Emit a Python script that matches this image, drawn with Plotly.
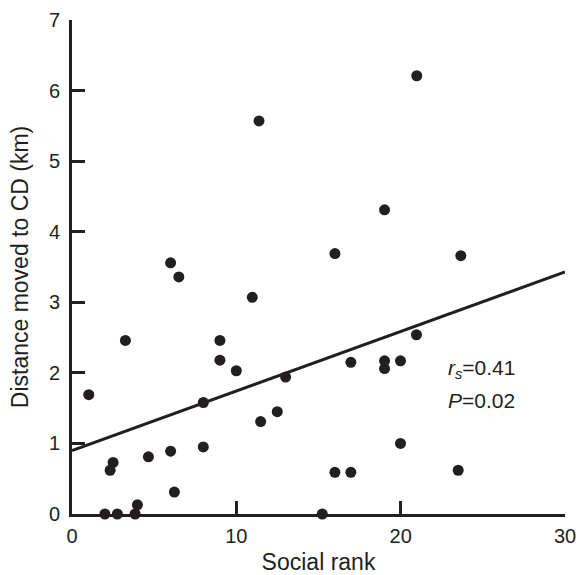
import plotly.graph_objects as go

social_rank = [6.0, 6.5, 10.97, 3.25, 9.0, 9.0, 10.0, 13.0, 1.02, 7.99, 12.49, 11.48,
               7.99, 6.0, 4.65, 2.5, 2.32, 6.23, 3.98, 2.0, 2.76, 3.84, 15.23,
               11.38, 20.98, 19.02, 16.0, 23.66,
               20.96, 16.97, 19.02, 19.02, 19.99, 19.99, 16.0, 16.97, 23.5]
distance_km = [3.56, 3.36, 3.07, 2.46, 2.46, 2.18, 2.03, 1.94, 1.69, 1.58, 1.45, 1.31,
               0.95, 0.89, 0.81, 0.73, 0.62, 0.31, 0.13, 0.0, 0.0, 0.0, 0.0,
               5.57, 6.21, 4.31, 3.69, 3.66,
               2.54, 2.15, 2.17, 2.06, 2.17, 1.0, 0.59, 0.59, 0.62]

fit_x = [0, 30]
fit_y = [0.9, 3.43]

x_ticks = [0, 10, 20, 30]
y_ticks = [0, 1, 2, 3, 4, 5, 6, 7]

ink = "#231f20"
font_family = "Liberation Sans, Arial, Helvetica, sans-serif"

fig = go.Figure()
fig.add_trace(go.Scatter(x=fit_x, y=fit_y, mode="lines",
                         line=dict(color=ink, width=3), cliponaxis=False,
                         hoverinfo="skip", showlegend=False))
fig.add_trace(go.Scatter(x=social_rank, y=distance_km, mode="markers",
                         marker=dict(color=ink, size=11, line=dict(width=0)),
                         cliponaxis=False, showlegend=False))

fig.add_annotation(x=22.75, y=2.06, xref="x", yref="y", xanchor="left", yanchor="middle",
                   text="<i>r<sub>s</sub></i>=0.41", showarrow=False,
                   font=dict(size=21, color=ink, family=font_family))
fig.add_annotation(x=22.75, y=1.61, xref="x", yref="y", xanchor="left", yanchor="middle",
                   text="<i>P</i>=0.02", showarrow=False,
                   font=dict(size=21, color=ink, family=font_family))

fig.update_layout(
    width=585, height=575,
    margin=dict(l=72, r=20, t=20, b=61, autoexpand=False),
    paper_bgcolor="white", plot_bgcolor="white",
    font=dict(family=font_family, size=20, color=ink),
    xaxis=dict(range=[0, 30], tickvals=x_ticks, ticks="inside", ticklen=13, tickwidth=3,
               tickcolor=ink, showline=True, linewidth=3, linecolor=ink, showgrid=False,
               zeroline=False, automargin=False, ticklabelstandoff=2,
               title=dict(text="Social rank", standoff=8, font=dict(size=23)),
               tickfont=dict(size=20)),
    yaxis=dict(range=[0, 7], tickvals=y_ticks, ticks="inside", ticklen=13, tickwidth=3,
               tickcolor=ink, showline=True, linewidth=3, linecolor=ink, showgrid=False,
               zeroline=False, automargin=False, ticklabelstandoff=5,
               title=dict(text="Distance moved to CD (km)", standoff=14, font=dict(size=23)),
               tickfont=dict(size=20)),
)

fig.write_html("out.html")
